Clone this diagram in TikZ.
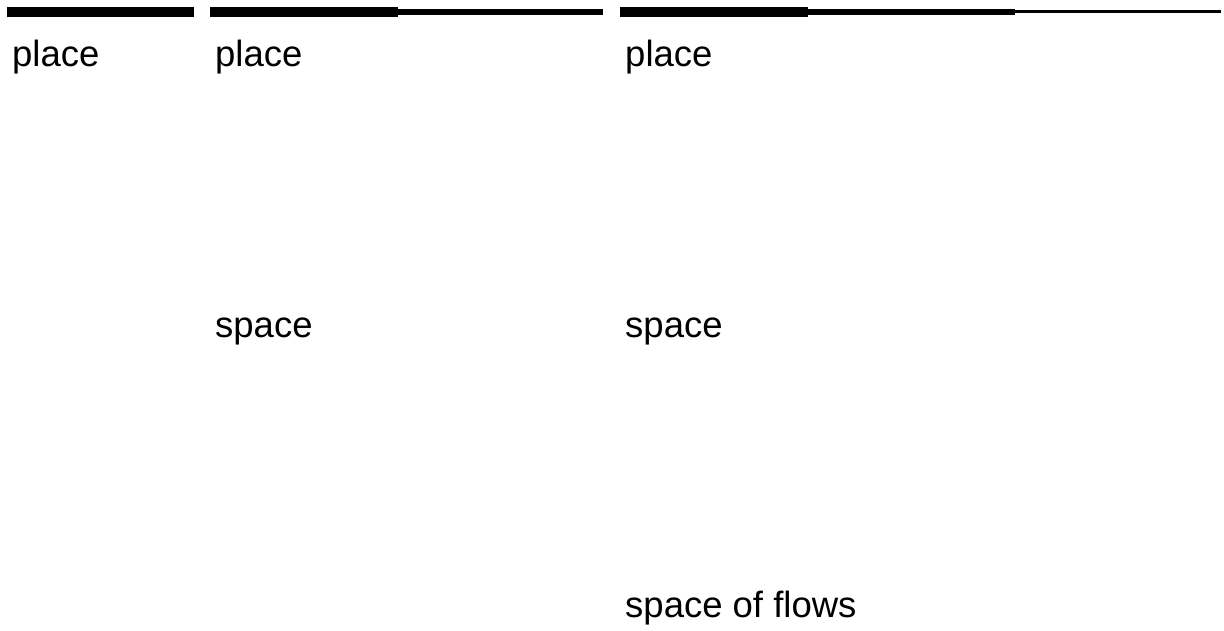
\documentclass[tikz,border=0pt]{standalone}
\usepackage{fontspec}
\setmainfont{Liberation Sans}
\begin{document}
\begin{tikzpicture}[x=1pt,y=-1pt,
  lbl/.style={anchor=base west,inner sep=0pt,font=\fontsize{36.5}{42}\selectfont},
  thick1/.style={line width=10pt},
  thick2/.style={line width=6pt},
  thick3/.style={line width=2.5pt}]
\useasboundingbox (0,0) rectangle (1224,630);
% column 1
\draw[thick1] (7,11.5) -- (194,11.5);
\node[lbl] (p1) at (12,66) {place};
% column 2
\draw[thick1] (210,11.5) -- (398,11.5);
\draw[thick2] (398,11.5) -- (603,11.5);
\node[lbl] (p2) at (215,66) {place};
\node[lbl] (s2) at (215,337) {space};
% column 3
\draw[thick1] (620,11.5) -- (808,11.5);
\draw[thick2] (808,11.5) -- (1015,11.5);
\draw[thick3] (1015,11.5) -- (1221,11.5);
\node[lbl] (p3) at (625,66) {place};
\node[lbl] (s3) at (625,337) {space};
\node[lbl] (f3) at (625,617) {space of flows};
\end{tikzpicture}
\end{document}
